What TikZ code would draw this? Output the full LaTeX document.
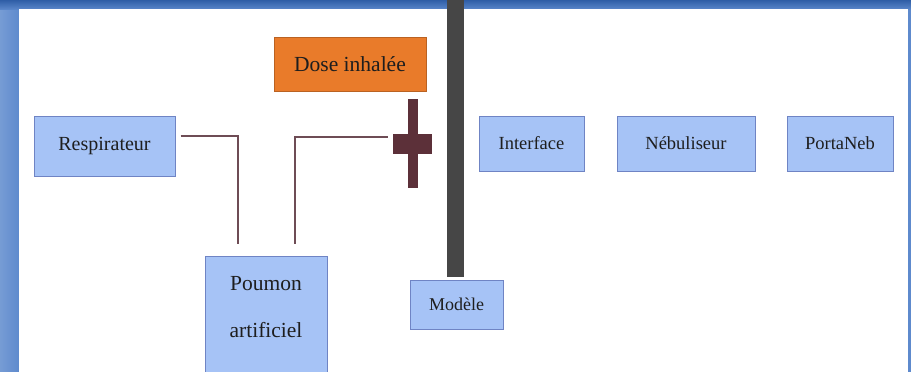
\documentclass[tikz,border=0pt]{standalone}
\usepackage{fontspec}
\setmainfont{Liberation Serif}
\newfontfamily\tnr{Liberation Serif}
\definecolor{boxfill}{HTML}{A6C3F6}
\definecolor{boxedge}{HTML}{6F84C4}
\definecolor{orangefill}{HTML}{E97B2A}
\definecolor{pipe}{HTML}{6E4C55}
\definecolor{valvecol}{HTML}{5C3039}
\definecolor{barcol}{HTML}{464646}
\definecolor{framecol}{HTML}{5E8ACD}
\definecolor{framedark}{HTML}{2F5EA6}
\definecolor{txt}{HTML}{1E1E1E}
\tikzset{
  bluebox/.style={draw=boxedge, line width=1pt, fill=boxfill, inner sep=0pt, text=txt, align=center},
  orangebox/.style={draw=orangefill!80!black, line width=1pt, fill=orangefill, inner sep=0pt, text=txt, align=center},
  pipeline/.style={draw=pipe, line width=2pt},
}
\begin{document}
\begin{tikzpicture}[x=1pt,y=-1pt]
\useasboundingbox (0,0) rectangle (911,372);
% frame
\fill[framecol] (0,0) rectangle (911,372);
\shade[top color=framedark, bottom color=framecol] (0,0) rectangle (911,10);
\shade[left color=framecol!85!white, right color=framecol] (0,10) rectangle (19,372);
\fill[white] (19,9) rectangle (908,372);
% vertical bar
\fill[barcol] (447,0) rectangle (464,277);
% nodes
\node[bluebox, minimum width=141pt, minimum height=60pt, font=\tnr\fontsize{20}{24}\selectfont] (resp) at (104.5,146) {Respirateur};
\node[orangebox, minimum width=152pt, minimum height=54pt, font=\tnr\fontsize{21.5}{26}\selectfont] (dose) at (350,64) {Dose inhalée};
\node[bluebox, minimum width=122pt, minimum height=116pt] (poumon) at (266,314) {};
\node[font=\tnr\fontsize{21.5}{47}\selectfont, text=txt, align=center] (poumontxt) at (266,307) {Poumon\\artificiel};
\node[bluebox, minimum width=93pt, minimum height=49pt, font=\tnr\fontsize{18}{22}\selectfont] (modele) at (456.5,304.5) {Modèle};
\node[bluebox, minimum width=105pt, minimum height=55pt, font=\tnr\fontsize{18.5}{22}\selectfont] (interface) at (531.5,143.5) {Interface};
\node[bluebox, minimum width=138pt, minimum height=55pt, font=\tnr\fontsize{18.5}{22}\selectfont] (nebu) at (686,143.5) {Nébuliseur};
\node[bluebox, minimum width=106pt, minimum height=55pt, font=\tnr\fontsize{18.5}{22}\selectfont] (porta) at (840,143.5) {PortaNeb};
% valve cross
\node[inner sep=0pt, minimum width=39pt, minimum height=89pt] (valve) at (412.5,143.5) {};
\fill[valvecol] ([xshift=-5pt]valve.north) rectangle ([xshift=5pt]valve.south);
\fill[valvecol] ([yshift=10pt]valve.west) rectangle ([yshift=-10pt]valve.east);
% connectors
\draw[pipeline] ([xshift=5pt,yshift=10pt]resp.east) -| ([xshift=-28pt,yshift=12pt]poumon.north);
\draw[pipeline] ([xshift=29pt,yshift=12pt]poumon.north) |- ([xshift=-5pt,yshift=7pt]valve.west);
\end{tikzpicture}
\end{document}
